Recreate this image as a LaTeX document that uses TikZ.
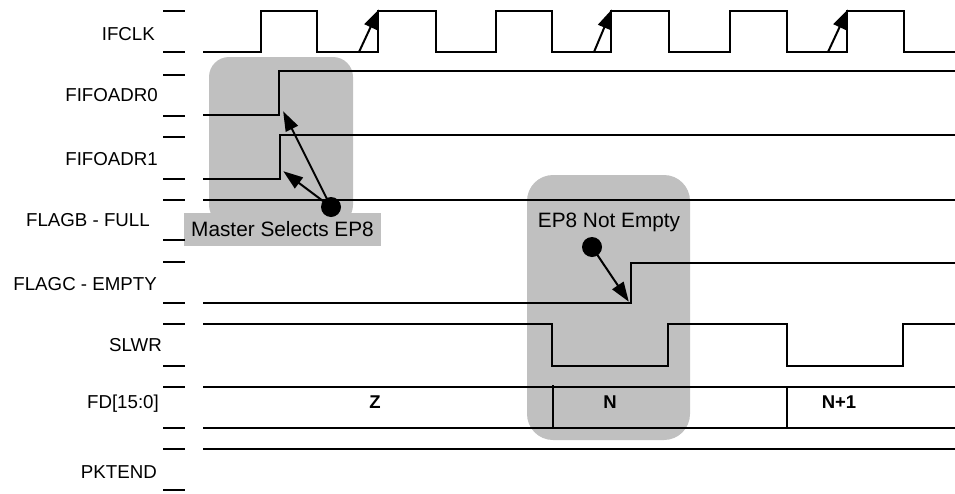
\documentclass[tikz,border=0pt]{standalone}
\usepackage{fontspec}
\setmainfont{Liberation Sans}
\usetikzlibrary{calc}
\definecolor{hlgray}{RGB}{192,192,192}
\newcommand{\headarrow}[2]{%
  \draw[line width=2pt] (#1) -- ($(#2)!12pt!(#1)$);
  \fill ($(#2)!0.5pt!(#1)$) -- ($(#2)!20pt!(#1)!7pt!90:(#2)$) -- ($(#2)!20pt!(#1)!7pt!-90:(#2)$) -- cycle;}
\begin{document}
\begin{tikzpicture}[x=1pt,y=-1pt,
  sig/.style={line width=2pt},
  tickmark/.style={line width=2pt},
  lbl/.style={anchor=base east, inner sep=0pt, font=\fontsize{18.7}{22}\selectfont},
  note/.style={inner sep=0pt, font=\fontsize{20.8}{24}\selectfont},
  dat/.style={inner sep=0pt, font=\bfseries\fontsize{18.5}{22}\selectfont},
  dot/.style={circle, fill=black, inner sep=0pt, minimum size=20pt}]
\useasboundingbox (0,0) rectangle (955,493);
% highlight boxes
\fill[hlgray, rounded corners=20pt] (209,57) rectangle (353,225);
\fill[hlgray, rounded corners=26pt] (527,175) rectangle (690,440);
\node[fill=hlgray, inner sep=0pt, minimum width=197pt, minimum height=33pt,
      font=\fontsize{20.8}{24}\selectfont] (msel) at (282.5,229.5) {Master Selects EP8};
\node[note] (nempty) at (609,222) {EP8 Not Empty};
% labels
\node[lbl] (l1) at (155,40) {IFCLK};
\node[lbl] (l2) at (158,101.7) {FIFOADR0};
\node[lbl] (l3) at (158,165) {FIFOADR1};
\node[lbl] (l4) at (150,226.7) {FLAGB - FULL};
\node[lbl] (l5) at (157,290) {FLAGC - EMPTY};
\node[lbl] (l6) at (162,351.7) {SLWR};
\node[lbl] (l7) at (159,408) {FD[15:0]};
\node[lbl] (l8) at (157,478) {PKTEND};
% tick marks
\foreach \t/\b in {11/52,75/116,137/179,200/240,262/303,324/366,387/428,449/490}{
  \draw[tickmark] (163,\t) -- (185,\t);
  \draw[tickmark] (163,\b) -- (185,\b);
}
% IFCLK
\draw[sig] (203,52) -- (261,52) -- (261,11) -- (317,11) -- (317,52) -- (378,52) -- (378,11)
  -- (436,11) -- (436,52) -- (496,52) -- (496,11) -- (552,11) -- (552,52) -- (611,52)
  -- (611,11) -- (669,11) -- (669,52) -- (730,52) -- (730,11) -- (787,11) -- (787,52)
  -- (847,52) -- (847,11) -- (904,11) -- (904,52) -- (955,52);
% FIFOADR0 / FIFOADR1
\draw[sig] (203,115) -- (279,115) -- (279,71) -- (955,71);
\draw[sig] (203,179) -- (280,179) -- (280,135) -- (955,135);
% FLAGB
\draw[sig] (203,200) -- (955,200);
% FLAGC
\draw[sig] (203,303) -- (631,303) -- (631,263) -- (955,263);
% SLWR
\draw[sig] (203,324) -- (552,324) -- (552,366) -- (668,366) -- (668,324) -- (787,324)
  -- (787,366) -- (903,366) -- (903,324) -- (955,324);
% FD
\draw[sig] (203,387) -- (955,387);
\draw[sig] (203,428) -- (955,428);
\draw[sig] (553,385) -- (553,429);
\draw[sig] (787,387) -- (787,428);
\node[dat] (dz) at (375,402) {Z};
\node[dat] (dn) at (610,402) {N};
\node[dat] (dn1) at (839,402) {N+1};
% PKTEND
\draw[sig] (203,449) -- (955,449);
% coordinates for arrows
\coordinate (c1s) at (359,52); \coordinate (c1e) at (379,9);
\coordinate (c2s) at (594,52); \coordinate (c2e) at (612,9);
\coordinate (c3s) at (828,52); \coordinate (c3e) at (848,9);
\node[dot] (d1) at (331,207) {};
\coordinate (a0) at (283,111);
\coordinate (a1) at (283,171);
\node[dot] (d2) at (592,247) {};
\coordinate (a2) at (629,302);
\headarrow{c1s}{c1e}
\headarrow{c2s}{c2e}
\headarrow{c3s}{c3e}
\headarrow{d1.center}{a0}
\headarrow{d1.center}{a1}
\headarrow{d2.center}{a2}
\end{tikzpicture}
\end{document}
